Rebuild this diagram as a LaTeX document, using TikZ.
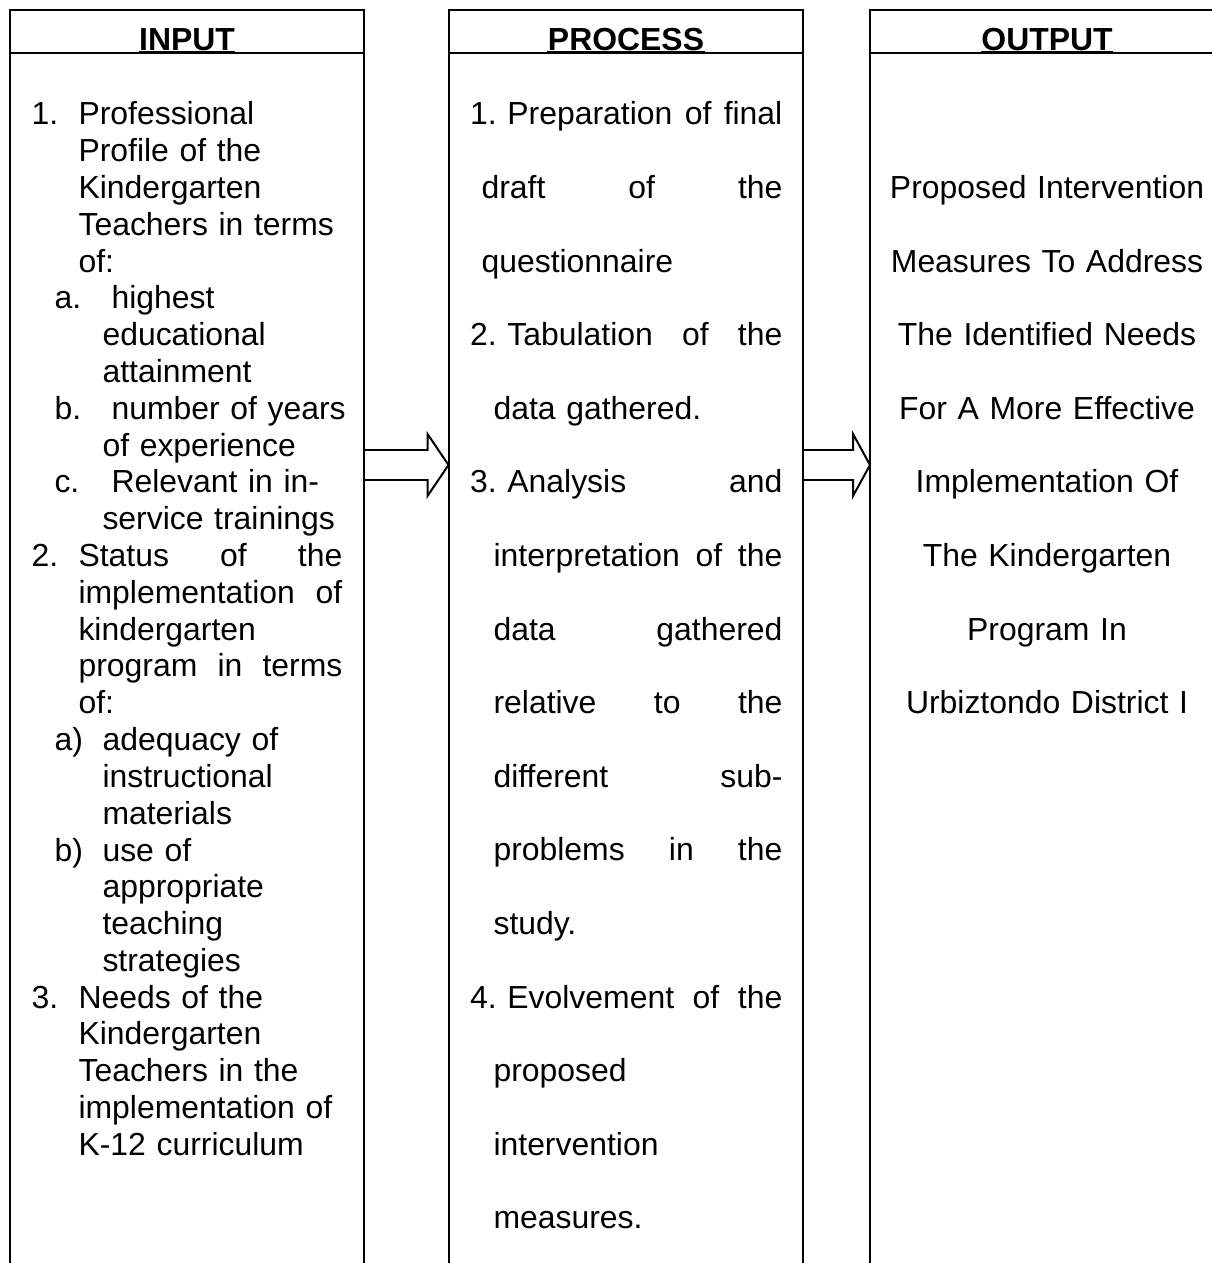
\documentclass[tikz,border=0pt]{standalone}
\usepackage{fontspec}
\setmainfont{Liberation Sans}
\usetikzlibrary{calc}
\frenchspacing
% justified line: indent, width, text (words spread with \hfill)
\newcommand{\jline}[3]{\hspace*{#1}\makebox[#2][l]{#3}}
\tikzset{
  colline/.style={line width=0.75pt},
  headline/.style={line width=1.1pt},
  blockarrow/.style={line width=0.75pt, line join=miter},
  headtext/.style={anchor=base, inner sep=0pt, font=\fontsize{12}{14}\selectfont\bfseries},
  labtext/.style={anchor=base west, inner sep=0pt, font=\fontsize{12}{13.83}\selectfont},
  listtext/.style={anchor=base west, inner sep=0pt, text width=#1, align=left,
    font=\fontsize{12}{13.83}\selectfont},
  proctext/.style={anchor=base west, inner sep=0pt, text width=120pt, align=left,
    font=\fontsize{12}{27.67}\selectfont},
  outtext/.style={anchor=base, inner sep=0pt, text width=128pt, align=center,
    font=\fontsize{12}{27.67}\selectfont}
}
\begin{document}
\begin{tikzpicture}[x=0.01321cm, y=-0.01321cm]
        \useasboundingbox (0,0) rectangle (1211,1263);
        % the three columns
        \draw[colline] (10,1263) -- (10,10) -- (364,10) -- (364,1263);
        \draw[colline] (10,53) -- (364,53);
        \draw[colline] (449,1263) -- (449,10) -- (803,10) -- (803,1263);
        \draw[colline] (449,53) -- (803,53);
        \draw[colline] (870,1263) -- (870,10) -- (1230,10);
        \draw[colline] (870,53) -- (1230,53);
        \node[headtext] (inhead) at (187,51) {INPUT};
        \node[headtext] (prochead) at (626,51) {PROCESS};
        \node[headtext] (outhead) at (1047,51) {OUTPUT};
        \draw[headline] ($(inhead.base west)+(0,1.5)$) -- ($(inhead.base east)+(0,1.5)$);
        \draw[headline] ($(prochead.base west)+(0,1.5)$) -- ($(prochead.base east)+(0,1.5)$);
        \draw[headline] ($(outhead.base west)+(0,1.5)$) -- ($(outhead.base east)+(0,1.5)$);
        % input
        \node[labtext] (in1) at (31,125) {1.};
        \node[listtext=104pt] (in1t) at (78,125) {Professional\\Profile of the\\Kindergarten\\Teachers in terms\\of:};
        \node[labtext] (in1a) at (54,309) {a.};
        \node[listtext=96pt] (in1at) at (102,309) {\hspace*{3.4pt}highest\\educational\\attainment};
        \node[labtext] (in1b) at (54,419.4) {b.};
        \node[listtext=96pt] (in1bt) at (102,419.4) {\hspace*{3.4pt}number of years\\of experience};
        \node[labtext] (in1c) at (54,493) {c.};
        \node[listtext=96pt] (in1ct) at (102,493) {\hspace*{3.4pt}Relevant in in-\\service trainings};
        \node[labtext] (in2) at (31,566.6) {2.};
        \node[listtext=104pt] (in2t) at (78,566.6) {\jline{0pt}{99.2pt}{Status\hfill of\hfill the}\\
            \jline{0pt}{99.2pt}{implementation\hfill of}\\kindergarten\\
            \jline{0pt}{99.2pt}{program\hfill in\hfill terms}\\of:};
        \node[labtext] (in2a) at (54,750.6) {a)};
        \node[listtext=96pt] (in2at) at (102,750.6) {adequacy of\\instructional\\materials};
        \node[labtext] (in2b) at (54,861) {b)};
        \node[listtext=96pt] (in2bt) at (102,861) {use of\\appropriate\\teaching\\strategies};
        \node[labtext] (in3) at (31,1008.2) {3.};
        \node[listtext=104pt] (in3t) at (78,1008.2) {Needs of the\\Kindergarten\\Teachers in the\\implementation of\\K-12 curriculum};
        % process
        \node[proctext] (proc) at (469.6,125) {\jline{0pt}{117.4pt}{1. Preparation\hfill of\hfill final}\\
            \jline{4.3pt}{113.1pt}{draft\hfill of\hfill the}\\
            \hspace*{4.3pt}questionnaire\\
            \jline{0pt}{117.4pt}{2. Tabulation\hfill of\hfill the}\\
            \hspace*{8.8pt}data gathered.\\
            \jline{0pt}{117.4pt}{3. Analysis\hfill and}\\
            \jline{8.8pt}{108.6pt}{interpretation\hfill of\hfill the}\\
            \jline{8.8pt}{108.6pt}{data\hfill gathered}\\
            \jline{8.8pt}{108.6pt}{relative\hfill to\hfill the}\\
            \jline{8.8pt}{108.6pt}{different\hfill sub-}\\
            \jline{8.8pt}{108.6pt}{problems\hfill in\hfill the}\\
            \hspace*{8.8pt}study.\\
            \jline{0pt}{117.4pt}{4. Evolvement\hfill of\hfill the}\\
            \hspace*{8.8pt}proposed\\
            \hspace*{8.8pt}intervention\\
            \hspace*{8.8pt}measures.};
        % output
        \node[outtext] (out) at (1047,198.6) {Proposed Intervention\\Measures To Address\\The Identified Needs\\For A More Effective\\Implementation Of\\The Kindergarten\\Program In\\Urbiztondo District I};
        % arrows
        \coordinate (a1s) at (364,465);
        \coordinate (a1e) at (448.5,465);
        \coordinate (a2s) at (803,465);
        \coordinate (a2e) at (870,465);
        \draw[blockarrow] ($(a1s)+(0,-15)$) -- ($(a1e)+(-21,-15)$) -- ($(a1e)+(-21,-31)$) -- (a1e)
            -- ($(a1e)+(-21,31)$) -- ($(a1e)+(-21,15)$) -- ($(a1s)+(0,15)$);
        \draw[blockarrow] ($(a2s)+(0,-15)$) -- ($(a2e)+(-17,-15)$) -- ($(a2e)+(-17,-31)$) -- (a2e)
            -- ($(a2e)+(-17,31)$) -- ($(a2e)+(-17,15)$) -- ($(a2s)+(0,15)$);
    \end{tikzpicture}
\end{document}
